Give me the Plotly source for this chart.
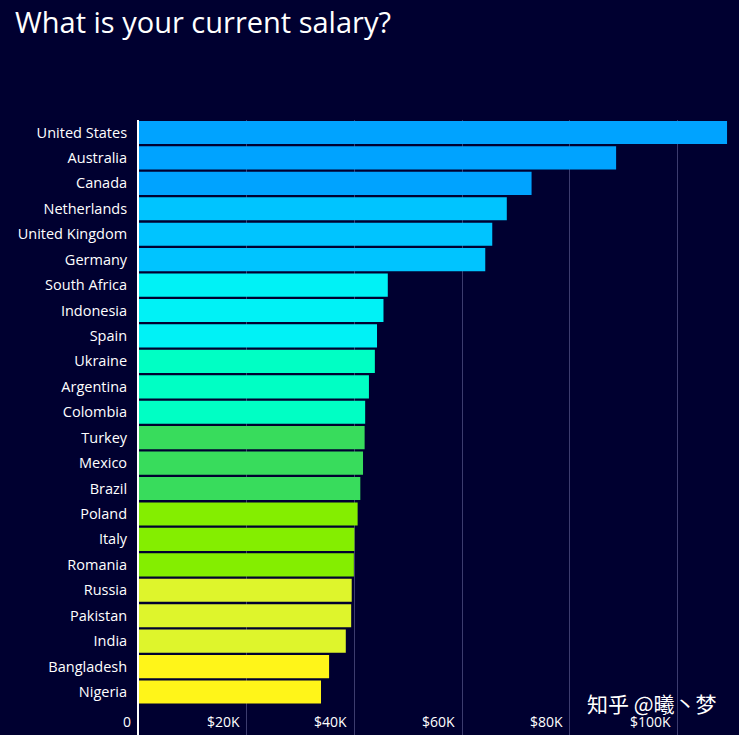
import plotly.graph_objects as go

countries = ["United States", "Australia", "Canada", "Netherlands", "United Kingdom",
             "Germany", "South Africa", "Indonesia", "Spain", "Ukraine", "Argentina",
             "Colombia", "Turkey", "Mexico", "Brazil", "Poland", "Italy", "Romania",
             "Russia", "Pakistan", "India", "Bangladesh", "Nigeria"]
salaries = [109200, 88600, 72900, 68300, 65600, 64300, 46200, 45400, 44200, 43800,
            42700, 42000, 41900, 41600, 41100, 40600, 40000, 39900, 39500, 39400,
            38400, 35300, 33800]
group_colors = ["#00A3FF", "#00A3FF", "#00A3FF",
                "#00C4FF", "#00C4FF", "#00C4FF",
                "#00F2F6", "#00F2F6", "#00F2F6",
                "#00FFC4", "#00FFC4", "#00FFC4",
                "#38DC5C", "#38DC5C", "#38DC5C",
                "#84EE00", "#84EE00", "#84EE00",
                "#DEF52C", "#DEF52C", "#DEF52C",
                "#FFF519", "#FFF519"]
tick_vals = [0, 20000, 40000, 60000, 80000, 100000]
tick_text = ["0", "$20K", "$40K", "$60K", "$80K", "$100K"]

BG = "#000030"
FONT = "Open Sans, Noto Sans, sans-serif"

idx = list(range(len(countries)))

fig = go.Figure()
fig.add_trace(go.Bar(
    x=salaries, y=idx, orientation="h",
    marker=dict(color=group_colors, line=dict(width=0)),
    hovertemplate="%{text}: $%{x:,}<extra></extra>",
    text=countries, textposition="none",
))

annotations = []
for v, t in zip(tick_vals, tick_text):
    annotations.append(dict(
        x=v, y=len(countries) + 0.16, xref="x", yref="y",
        text=t, showarrow=False, xanchor="right", yanchor="middle",
        xshift=-5 if v else -6,
        font=dict(family=FONT, size=14, color="#FFFFFF"),
    ))
annotations.append(dict(
    x=(719 - 139) / 600, y=(735 - 703) / 615, xref="paper", yref="paper",
    text="知乎 @曦丶梦",
    showarrow=False, xanchor="right", yanchor="middle",
    font=dict(family="Noto Sans CJK SC", size=21, color="#FFFFFF"),
))

fig.update_layout(
    width=739, height=735,
    paper_bgcolor=BG, plot_bgcolor=BG,
    margin=dict(l=139, r=0, t=120, b=0),
    title=dict(text="What is your current salary?", x=15 / 739, xanchor="left",
               y=1 - 23 / 735, yanchor="middle",
               font=dict(family=FONT, size=29, color="#FFFFFF")),
    bargap=0.09,
    showlegend=False,
    annotations=annotations,
)
fig.update_xaxes(
    range=[0, 111420], tickvals=tick_vals, showticklabels=False,
    showgrid=True, gridcolor="#3C3C6E", gridwidth=1, zeroline=False,
    showline=False,
)
fig.update_yaxes(
    range=[23.69, -0.49], tickvals=idx, ticktext=countries,
    showgrid=False, zeroline=False, showline=True, linecolor="#FFFFFF", linewidth=2,
    ticks="", ticklabelstandoff=7,
    tickfont=dict(family=FONT, size=14.5, color="#FFFFFF"),
)

fig.write_html(
    "out.html",
    config={"displayModeBar": False},
    post_script="document.body.style.margin='0';document.body.style.background='" + BG + "';",
)
